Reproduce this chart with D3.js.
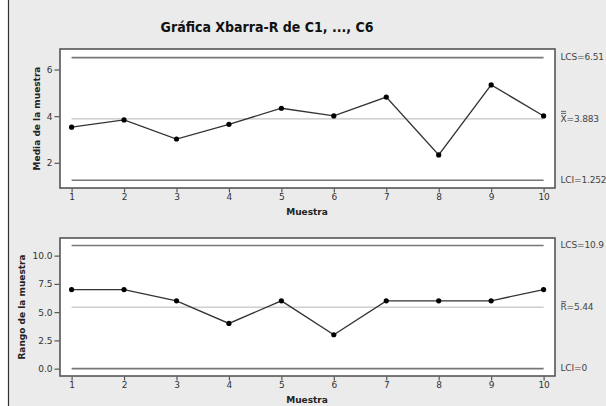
<!DOCTYPE html>
<html><head><meta charset="utf-8">
<script src="https://cdn.jsdelivr.net/npm/d3@7"></script>
<style>
html,body{margin:0;padding:0;background:#fff;}
svg{display:block;}
</style></head>
<body>
<svg id="c" width="606" height="406"></svg>
<script>
const samples = [1,2,3,4,5,6,7,8,9,10];
const means   = [3.53,3.84,3.02,3.65,4.34,4.01,4.82,2.34,5.34,4.01];
const ranges  = [7,7,6,4,6,3,6,6,6,7];
const meanLimits  = {ucl:6.51, center:3.883, lcl:1.252};
const rangeLimits = {ucl:10.90, center:5.44, lcl:0};
const meanTicks  = [2,4,6];
const rangeTicks = [0,2.5,5,7.5,10];
const title = "Gráfica Xbarra-R de C1, ..., C6";

const svg = d3.select("#c");
svg.append("rect").attr("x",0).attr("y",0).attr("width",606).attr("height",406).attr("fill","#fff");
svg.append("rect").attr("x",8).attr("y",0).attr("width",598).attr("height",406).attr("fill","#ebebeb");
svg.append("line").attr("x1",8.5).attr("x2",8.5).attr("y1",0).attr("y2",406).attr("stroke","#333").attr("stroke-width",1.2);

svg.append("text").attr("x",267).attr("y",32).attr("text-anchor","middle")
  .attr("font-family","'DejaVu Sans Condensed','DejaVu Sans',sans-serif").attr("font-stretch","condensed")
  .attr("font-weight","bold").attr("font-size",14).attr("fill","#111").text(title);

const x = d3.scaleLinear().domain([1,10]).range([71.6,543.6]);
const SMALL = "'DejaVu Sans',sans-serif";

function panel(o){
  const g = svg.append("g");
  const y = d3.scaleLinear().domain(o.domain).range([o.bottom,o.top]);
  g.append("rect").attr("x",60).attr("y",o.top).attr("width",495).attr("height",o.bottom-o.top)
    .attr("fill","#fff").attr("stroke","#555").attr("stroke-width",1.6);
  const lim = o.limits;
  [["ucl",1.6,"#777"],["lcl",1.6,"#777"],["center",1,"#b5b5b5"]].forEach(([k,w,c])=>{
    g.append("line").attr("x1",x(1)).attr("x2",x(10)).attr("y1",y(lim[k])).attr("y2",y(lim[k]))
      .attr("stroke",c).attr("stroke-width",w);
  });
  const pts = samples.map((s,i)=>[s,o.values[i]]);
  g.append("path").datum(pts).attr("fill","none").attr("stroke","#333").attr("stroke-width",1.3)
    .attr("d",d3.line().x(d=>x(d[0])).y(d=>y(d[1])));
  g.selectAll("circle.p").data(pts).join("circle").attr("class","p")
    .attr("cx",d=>x(d[0])).attr("cy",d=>y(d[1])).attr("r",2.6).attr("fill","#000");
  const ya = g.append("g").attr("transform","translate(59.5,0)")
    .call(d3.axisLeft(y).tickValues(o.ticks).tickFormat(o.fmt).tickSize(5).tickPadding(2).tickSizeOuter(0));
  const xa = g.append("g").attr("transform",`translate(0,${o.bottom+0.5})`)
    .call(d3.axisBottom(x).tickValues(samples).tickFormat(d3.format("d")).tickSize(4).tickPadding(1).tickSizeOuter(0));
  [ya,xa].forEach(a=>{
    a.select(".domain").remove();
    a.selectAll("line").attr("stroke","#555").attr("stroke-width",1.2);
    a.selectAll("text").attr("font-family",SMALL).attr("font-size",9).attr("fill","#333");
  });
  g.append("text").attr("x",307).attr("y",o.bottom+27).attr("text-anchor","middle")
    .attr("font-family",SMALL).attr("font-weight","bold").attr("font-size",9).attr("fill","#222").text("Muestra");
  g.append("text").attr("transform",`translate(${o.titleX},${(o.top+o.bottom)/2}) rotate(-90)`)
    .attr("text-anchor","middle").attr("dominant-baseline","middle")
    .attr("font-family",SMALL).attr("font-weight","bold").attr("font-size",9).attr("fill","#222").text(o.ytitle);
  const lab = (val, txt, bars) => {
    const t = g.append("text").attr("x",560.5).attr("y",y(val)).attr("dominant-baseline","middle")
      .attr("font-family",SMALL).attr("font-size",9).attr("letter-spacing",-0.15).attr("fill","#444");
    if(bars){
      const ts = t.append("tspan").text(bars.letter);
      t.append("tspan").text(txt);
      const w = ts.node().getComputedTextLength();
      for(let b=0;b<bars.n;b++){
        g.append("line").attr("x1",561).attr("x2",560.5+w-0.5)
          .attr("y1",y(val)-5.5-b*2).attr("y2",y(val)-5.5-b*2).attr("stroke","#444").attr("stroke-width",0.8);
      }
    } else t.text(txt);
  };
  lab(lim.ucl, o.uclText);
  lab(lim.center, o.centerText, o.bars);
  lab(lim.lcl, o.lclText);
}

panel({top:49, bottom:188, domain:[0.92,6.88], values:means, limits:meanLimits, ticks:meanTicks,
  fmt:d3.format("d"), ytitle:"Media de la muestra", titleX:37,
  uclText:"LCS=6.51", centerText:"=3.883", lclText:"LCI=1.252", bars:{letter:"X",n:2}});
panel({top:238, bottom:376, domain:[-0.65,11.56], values:ranges, limits:rangeLimits, ticks:rangeTicks,
  fmt:d3.format(".1f"), ytitle:"Rango de la muestra", titleX:22.5,
  uclText:"LCS=10.9", centerText:"=5.44", lclText:"LCI=0", bars:{letter:"R",n:1}});
</script>
</body></html>
